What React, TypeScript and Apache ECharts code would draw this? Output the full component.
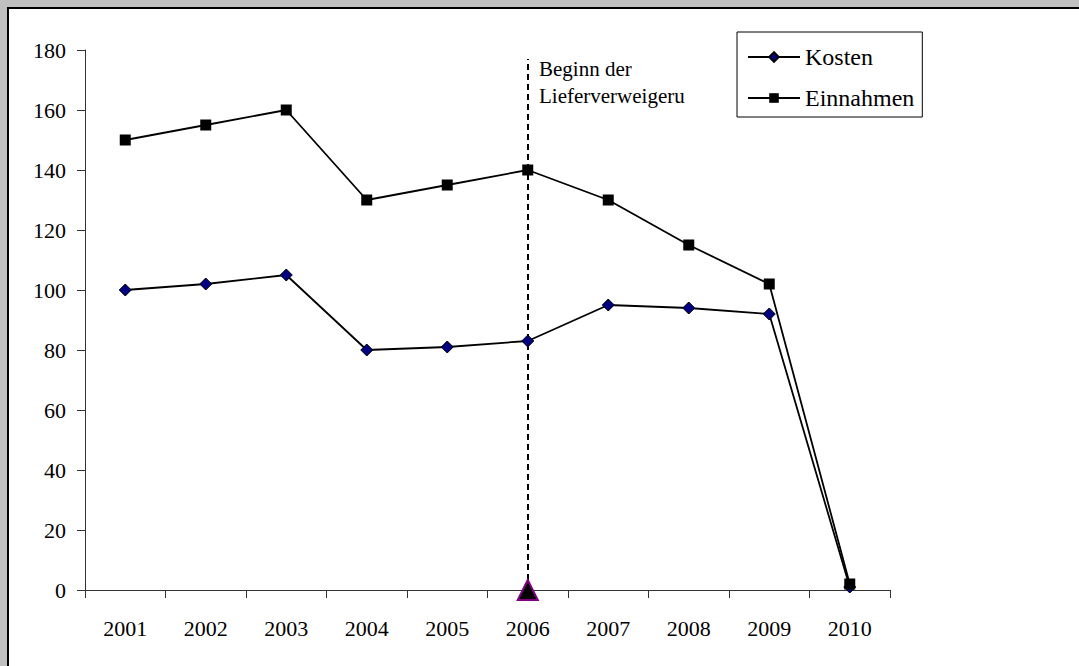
import React, { useEffect, useRef } from "react";
import * as echarts from "echarts";

const years = ["2001", "2002", "2003", "2004", "2005", "2006", "2007", "2008", "2009", "2010"];
const kosten = [100, 102, 105, 80, 81, 83, 95, 94, 92, 1];
const einnahmen = [150, 155, 160, 130, 135, 140, 130, 115, 102, 2];
const markerYear = "2006";
const markerLineTop = 177;
const annotation = "Beginn der\nLieferverweigeru";
const FONT = "'Liberation Serif', 'Times New Roman', serif";

export default function App() {
  const ref = useRef<HTMLDivElement>(null);
  useEffect(() => {
    if (!ref.current) return;
    const chart = echarts.init(ref.current, undefined, { renderer: "svg" });
    chart.setOption({
      animation: false,
      backgroundColor: "transparent",
      textStyle: { fontFamily: FONT },
      grid: { left: 85, top: 50, bottom: 76, right: 189, containLabel: false },
      legend: {
        orient: "vertical",
        left: 737,
        top: 32,
        padding: [13, 8, 7, 10],
        itemWidth: 52,
        itemHeight: 12,
        itemGap: 17,
        borderColor: "#000",
        borderWidth: 1,
        backgroundColor: "#fff",
        textStyle: { fontFamily: FONT, fontSize: 24, color: "#000" },
        data: ["Kosten", "Einnahmen"],
      },
      xAxis: {
        type: "category",
        data: years,
        boundaryGap: true,
        axisLine: { lineStyle: { color: "#333", width: 1 } },
        axisTick: { show: true, length: 8, lineStyle: { color: "#333" } },
        axisLabel: { fontFamily: FONT, fontSize: 22, color: "#000", margin: 27 },
        splitLine: { show: false },
      },
      yAxis: {
        type: "value",
        min: 0,
        max: 180,
        interval: 20,
        axisLine: { show: true, lineStyle: { color: "#333", width: 1 } },
        axisTick: { show: true, length: 8, lineStyle: { color: "#333" } },
        axisLabel: { fontFamily: FONT, fontSize: 22, color: "#000", margin: 19 },
        splitLine: { show: false },
      },
      graphic: [
        {
          type: "text",
          left: 539,
          top: 55,
          style: {
            text: annotation,
            font: `21px ${FONT}`,
            lineHeight: 27,
            fill: "#000",
          },
        },
      ],
      series: [
        {
          name: "Kosten",
          type: "line",
          data: kosten,
          symbol: "diamond",
          symbolSize: 12,
          showAllSymbol: true,
          lineStyle: { color: "#000", width: 1.8 },
          itemStyle: { color: "#000080", borderColor: "#000", borderWidth: 1 },
          z: 3,
        },
        {
          name: "Einnahmen",
          type: "line",
          data: einnahmen,
          symbol: "rect",
          symbolSize: 11,
          showAllSymbol: true,
          lineStyle: { color: "#000", width: 1.8 },
          itemStyle: { color: "#000", borderColor: "#000", borderWidth: 0 },
          z: 3,
        },
        {
          name: "Marker",
          type: "scatter",
          data: [[markerYear, 0]],
          symbol: "triangle",
          symbolSize: [20, 20],
          itemStyle: { color: "#000", borderColor: "#800080", borderWidth: 2, opacity: 1 },
          z: 5,
          silent: true,
          markLine: {
            silent: true,
            symbol: "none",
            z: 1,
            label: { show: false },
            lineStyle: { color: "#000", width: 2, type: [6, 4] },
            data: [[{ coord: [markerYear, 0] }, { coord: [markerYear, markerLineTop] }]],
          },
        },
      ],
    });
    return () => chart.dispose();
  }, []);

  return (
    <div style={{ position: "fixed", left: 0, top: 0, width: 1079, height: 666, background: "#c0c0c0", overflow: "hidden" }}>
      <div
        style={{
          position: "absolute",
          left: 7,
          top: 7,
          width: 1100,
          height: 700,
          background: "#fff",
          borderLeft: "2px solid #000",
          borderTop: "2px solid #000",
        }}
      />
      <div ref={ref} style={{ position: "absolute", left: 0, top: 0, width: 1079, height: 666 }} />
    </div>
  );
}
